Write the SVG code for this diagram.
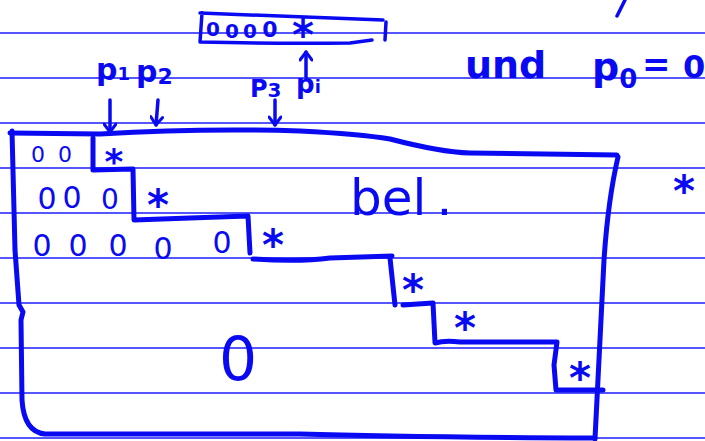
<svg xmlns="http://www.w3.org/2000/svg" width="705" height="441" viewBox="0 0 705 441">
<defs>
<style>
.rule{stroke:#1e1eff;stroke-width:1.5;fill:none}
.ink{stroke:#0a0af2;fill:none;stroke-linecap:round;stroke-linejoin:round}
.box{stroke-width:5}
.thin{stroke-width:3.5}
.t{fill:#0a0af2;font-family:"DejaVu Sans",sans-serif}
.z{fill:#0a0af2;font-family:"DejaVu Sans",sans-serif;text-anchor:middle}
.st{fill:#0a0af2;font-family:"DejaVu Sans",sans-serif;font-weight:bold;text-anchor:middle}
</style>
<marker id="ah" markerWidth="14" markerHeight="14" refX="12" refY="7" orient="auto" markerUnits="userSpaceOnUse" viewBox="0 0 14 14">
<path d="M4,1 L12,7 L4,13" fill="none" stroke="#0a0af2" stroke-width="3" stroke-linecap="round" stroke-linejoin="round"/>
</marker>
</defs>
<rect width="705" height="441" fill="#ffffff"/>
<g id="ruled-lines">
<line class="rule" x1="0" y1="33" x2="705" y2="33"/>
<line class="rule" x1="0" y1="78" x2="705" y2="78"/>
<line class="rule" x1="0" y1="123" x2="705" y2="123"/>
<line class="rule" x1="0" y1="168" x2="705" y2="168"/>
<line class="rule" x1="0" y1="213" x2="705" y2="213"/>
<line class="rule" x1="0" y1="258" x2="705" y2="258"/>
<line class="rule" x1="0" y1="303" x2="705" y2="303"/>
<line class="rule" x1="0" y1="348" x2="705" y2="348"/>
<line class="rule" x1="0" y1="393" x2="705" y2="393"/>
<line class="rule" x1="0" y1="438" x2="705" y2="438"/>
</g>
<g id="top-array">
<path class="ink thin" d="M200,13 L383,20 M202,13 L200,42 M200,42 Q280,44 350,43 L372,40 M386,22 L385,40"/>
<text class="z" x="213" y="36" font-size="20" font-weight="bold">0</text>
<text class="z" x="232" y="38" font-size="20" font-weight="bold">0</text>
<text class="z" x="250" y="38" font-size="20" font-weight="bold">0</text>
<text class="z" x="270" y="37" font-size="22" font-weight="bold">0</text>
<text class="st" x="303" y="50" font-size="42">*</text>
</g>
<g id="pointer-labels">
<text class="t" x="96" y="80" font-size="30" font-weight="bold">p<tspan font-size="18">1</tspan></text>
<text class="t" x="136" y="82" font-size="30" font-weight="bold">p<tspan font-size="22" dy="2">2</tspan></text>
<text class="t" x="250" y="97" font-size="24" font-weight="bold">P<tspan font-size="20">3</tspan></text>
<text class="t" x="296" y="93" font-size="26" font-weight="bold">p<tspan font-size="18">i</tspan></text>
</g>
<g id="connectors">
<line class="ink thin" x1="110" y1="100" x2="110" y2="132" marker-end="url(#ah)"/>
<line class="ink thin" x1="158" y1="100" x2="156" y2="125" marker-end="url(#ah)"/>
<line class="ink thin" x1="275" y1="100" x2="275" y2="125" marker-end="url(#ah)"/>
<line class="ink thin" x1="306" y1="77" x2="306" y2="52" marker-end="url(#ah)"/>
</g>
<g id="note">
<text class="t" x="465" y="78" font-size="38" font-weight="bold">und</text>
<text class="t" x="592" y="80" font-size="38" font-weight="bold">p<tspan font-size="26" dy="8">0</tspan></text>
<text class="t" x="642" y="76" font-size="34" font-weight="bold">=</text>
<text class="t" x="683" y="78" font-size="32" font-weight="bold">0</text>
<path class="ink thin" d="M625,0 L617,16"/>
</g>
<g id="matrix">
<path class="ink box" d="M10,133 L100,134 Q200,128 300,131 Q360,134 390,139 Q440,152 470,153 L617,155"/>
<path class="ink box" d="M618,157 Q608,200 604,260 L595,439"/>
<path class="ink box" d="M12,131 L15,250 L19,305 L23,312 L21,320 L22,400 Q24,432 45,434 L300,434 Q400,437 595,438"/>
<path class="ink box" d="M93,138 L93,170 L133,169 L134,220 L190,218 L248,216 L250,253 M253,259 Q300,262 330,258 L392,256 M390,258 L395,305 M403,305 L433,303 L435,343 Q445,340 460,342 L557,342 L554,365 L556,390 L603,390"/>
</g>
<g id="entries">
<text class="z" x="38" y="162" font-size="22">0</text>
<text class="z" x="65" y="162" font-size="22">0</text>
<text class="z" x="47" y="209" font-size="30">0</text>
<text class="z" x="72" y="208" font-size="30">0</text>
<text class="z" x="110" y="209" font-size="28">0</text>
<text class="z" x="42" y="256" font-size="30">0</text>
<text class="z" x="78" y="256" font-size="30">0</text>
<text class="z" x="118" y="256" font-size="30">0</text>
<text class="z" x="163" y="259" font-size="30">0</text>
<text class="z" x="222" y="253" font-size="30">0</text>
<text class="z" x="238" y="380" font-size="60">0</text>
<text class="t" x="350" y="215" font-size="50">bel<tspan dx="10">.</tspan></text>
</g>
<g id="stars">
<text class="st" x="114" y="174" font-size="36">*</text>
<text class="st" x="158" y="220" font-size="42">*</text>
<text class="st" x="273" y="260" font-size="42">*</text>
<text class="st" x="413" y="305" font-size="42">*</text>
<text class="st" x="465" y="343" font-size="42">*</text>
<text class="st" x="580" y="393" font-size="42">*</text>
<text class="st" x="684" y="206" font-size="42">*</text>
</g>
</svg>
